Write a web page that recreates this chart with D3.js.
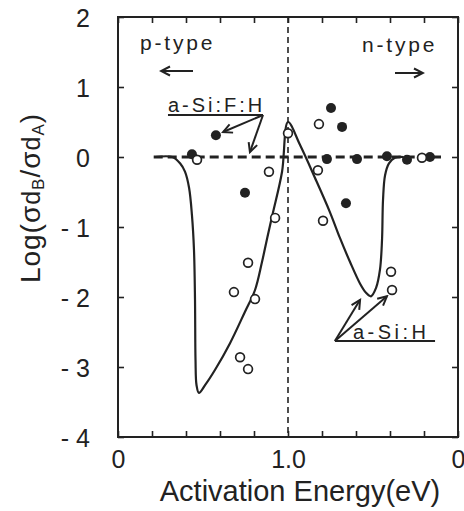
<!DOCTYPE html>
<html>
<head>
<meta charset="utf-8">
<script src="https://cdn.jsdelivr.net/npm/d3@7"></script>
<style>
  body { margin: 0; background: #fff; }
  text { font-family: "Liberation Sans", Arial, sans-serif; fill: #222; }
</style>
</head>
<body>
<div id="chart"></div>
<script>
// Solid curve (a-Si:H), p-type side then n-type side, activation energy in eV
const curvePEa  = [0.22, 0.32, 0.365, 0.394, 0.418, 0.435, 0.447, 0.453, 0.456, 0.462, 0.476, 0.512, 0.571, 0.659, 0.747, 0.806, 0.847, 0.882, 0.912, 0.965, 1.0];
const curvePLog = [0, 0, -0.09, -0.21, -0.44, -0.83, -1.33, -2.04, -2.90, -3.26, -3.37, -3.26, -3.04, -2.66, -2.21, -1.90, -1.50, -1.11, -0.79, -0.21, 0.5];
const curveNEa  = [0.929, 0.841, 0.753, 0.694, 0.635, 0.576, 0.541, 0.512, 0.482, 0.459, 0.447, 0.441, 0.429, 0.406, 0.371, 0.32];
const curveNLog = [0.17, -0.30, -0.79, -1.16, -1.50, -1.81, -1.94, -1.99, -1.87, -1.61, -1.19, -0.61, -0.26, -0.09, -0.01, 0];

// Dashed trend line for a-Si:F:H (log = 0), from p-type Ea to n-type Ea
const trendPEa = 0.21, trendNEa = 0.10, trendLog = 0;

// a-Si:F:H points (filled)
const fhPEa  = [0.435, 0.576, 0.747];
const fhPLog = [0.04, 0.31, -0.51];
const fhNEa  = [0.747, 0.682, 0.771, 0.659, 0.594, 0.418, 0.30, 0.165];
const fhNLog = [0.70, 0.43, -0.03, -0.66, -0.03, 0.01, -0.04, 0.0];

// a-Si:H points (open)
const hPEa  = [0.465, 0.888, 0.924, 1.0, 0.765, 0.682, 0.806, 0.718, 0.765];
const hPLog = [-0.04, -0.21, -0.87, 0.34, -1.51, -1.93, -2.03, -2.86, -3.03];
const hNEa  = [0.818, 0.824, 0.794, 0.394, 0.388, 0.212];
const hNLog = [0.47, -0.19, -0.91, -1.64, -1.90, -0.01];

// axis ticks
const xMinorTicks = d3.range(0, 2.001, 0.2);
const xTickLabels = { 0: "0", 1: "1.0", 2: "0" };
const yTicks = [-4, -3, -2, -1, 0, 1, 2];

const W = 464, H = 511;
const frame = { left: 118, right: 458, top: 17, bottom: 437 };

const svg = d3.select("#chart").append("svg")
  .attr("width", W).attr("height", H)
  .style("background", "#fff");

// folded axis: position 0..1 is p-type Ea, 1..2 is n-type (2 - Ea)
const x = d3.scaleLinear().domain([0, 2]).range([frame.left, frame.right]);
const y = d3.scaleLinear().domain([-4, 2]).range([frame.bottom, frame.top]);
const pos = (ea, type) => type === "p" ? ea : 2 - ea;

const ink = "#222";

// arrow heads
const defs = svg.append("defs");
defs.append("marker")
  .attr("id", "chev")
  .attr("viewBox", "-10 -6 12 12")
  .attr("markerWidth", 12).attr("markerHeight", 12)
  .attr("markerUnits", "userSpaceOnUse")
  .attr("refX", 0).attr("refY", 0)
  .attr("orient", "auto")
  .append("path")
  .attr("d", "M-9,-4.5L0,0L-9,4.5")
  .attr("fill", "none").attr("stroke", ink).attr("stroke-width", 2);

// Axes (ticks pointing inward)
const bottom = svg.append("g")
  .attr("transform", `translate(0,${frame.bottom})`)
  .call(d3.axisBottom(x).tickValues(xMinorTicks).tickSizeInner(-6).tickSizeOuter(0)
    .tickFormat(d => xTickLabels[Math.round(d * 10) / 10] || ""));
bottom.selectAll("text").attr("y", 31).attr("dy", 0).style("font-size", "25px")
  .style("font-family", "'Liberation Sans', Arial, sans-serif").attr("fill", ink);

svg.append("g")
  .attr("transform", `translate(0,${frame.top})`)
  .call(d3.axisTop(x).tickValues(xMinorTicks).tickSizeInner(-6).tickSizeOuter(0).tickFormat(""));

const left = svg.append("g")
  .attr("transform", `translate(${frame.left},0)`)
  .call(d3.axisLeft(y).tickValues(yTicks).tickSizeInner(-6).tickSizeOuter(0)
    .tickFormat(d => d < 0 ? "- " + (-d) : String(d)));
left.selectAll("text").attr("x", -28).attr("dy", "0.36em").style("font-size", "25px")
  .style("font-family", "'Liberation Sans', Arial, sans-serif").attr("fill", ink);

svg.append("g")
  .attr("transform", `translate(${frame.right},0)`)
  .call(d3.axisRight(y).tickValues(yTicks).tickSizeInner(-6).tickSizeOuter(0).tickFormat(""));

svg.selectAll(".domain").remove();
svg.selectAll(".tick line").attr("stroke", ink).attr("stroke-width", 1.6);

svg.append("rect")
  .attr("x", frame.left).attr("y", frame.top)
  .attr("width", frame.right - frame.left).attr("height", frame.bottom - frame.top)
  .attr("fill", "none").attr("stroke", ink).attr("stroke-width", 2);

// vertical dashed line at 1.0 eV
svg.append("line")
  .attr("x1", x(1)).attr("x2", x(1))
  .attr("y1", y(2)).attr("y2", y(-4))
  .attr("stroke", ink).attr("stroke-width", 1.6)
  .attr("stroke-dasharray", "6,4");

// dashed trend line for a-Si:F:H
svg.append("line")
  .attr("x1", x(pos(trendPEa, "p"))).attr("x2", x(pos(trendNEa, "n")))
  .attr("y1", y(trendLog)).attr("y2", y(trendLog))
  .attr("stroke", ink).attr("stroke-width", 3.2)
  .attr("stroke-dasharray", "9,5");

// solid a-Si:H curve
const curvePts = curvePEa.map((e, i) => [pos(e, "p"), curvePLog[i]])
  .concat(curveNEa.map((e, i) => [pos(e, "n"), curveNLog[i]]));
const line = d3.line()
  .x(d => x(d[0]))
  .y(d => y(d[1]))
  .curve(d3.curveCatmullRom.alpha(0.5));
svg.append("path")
  .attr("d", line(curvePts))
  .attr("fill", "none").attr("stroke", ink).attr("stroke-width", 2.2);

// filled points (a-Si:F:H)
const fhPts = fhPEa.map((e, i) => [pos(e, "p"), fhPLog[i]])
  .concat(fhNEa.map((e, i) => [pos(e, "n"), fhNLog[i]]));
svg.selectAll(".fh").data(fhPts).join("circle")
  .attr("class", "fh")
  .attr("cx", d => x(d[0])).attr("cy", d => y(d[1]))
  .attr("r", 5).attr("fill", ink);

// open points (a-Si:H)
const hPts = hPEa.map((e, i) => [pos(e, "p"), hPLog[i]])
  .concat(hNEa.map((e, i) => [pos(e, "n"), hNLog[i]]));
svg.selectAll(".h").data(hPts).join("circle")
  .attr("class", "h")
  .attr("cx", d => x(d[0])).attr("cy", d => y(d[1]))
  .attr("r", 4.4).attr("fill", "#fff").attr("stroke", ink).attr("stroke-width", 1.7);

// p-type / n-type labels with arrows
svg.append("text").attr("x", 140).attr("y", 50)
  .style("font-size", "21px").style("letter-spacing", "2.8px").text("p-type");
svg.append("line").attr("x1", 193).attr("x2", 161).attr("y1", 71).attr("y2", 71)
  .attr("stroke", ink).attr("stroke-width", 2).attr("marker-end", "url(#chev)");
svg.append("text").attr("x", 362).attr("y", 52)
  .style("font-size", "21px").style("letter-spacing", "2.8px").text("n-type");
svg.append("line").attr("x1", 395).attr("x2", 423).attr("y1", 73).attr("y2", 73)
  .attr("stroke", ink).attr("stroke-width", 2).attr("marker-end", "url(#chev)");

// a-Si:F:H label
const fhLab = { x0: 0.294, x1: 0.853, v: 0.6 };
svg.append("text").attr("x", x(fhLab.x0)).attr("y", y(fhLab.v) - 3)
  .style("font-size", "20px").style("letter-spacing", "3px").text("a-Si:F:H");
svg.append("line").attr("x1", x(fhLab.x0)).attr("x2", x(fhLab.x1))
  .attr("y1", y(fhLab.v)).attr("y2", y(fhLab.v))
  .attr("stroke", ink).attr("stroke-width", 2);
[[0.618, 0.357], [0.776, 0.07]].forEach(t => {
  svg.append("line").attr("x1", x(fhLab.x1)).attr("y1", y(fhLab.v))
    .attr("x2", x(t[0])).attr("y2", y(t[1]))
    .attr("stroke", ink).attr("stroke-width", 2).attr("marker-end", "url(#chev)");
});

// a-Si:H label
const hLab = { x0: 1.276, x1: 1.865, v: -2.63 };
svg.append("text").attr("x", x(hLab.x0) + 18).attr("y", y(hLab.v) - 2)
  .style("font-size", "20px").style("letter-spacing", "3.5px").text("a-Si:H");
svg.append("line").attr("x1", x(hLab.x0)).attr("x2", x(hLab.x1))
  .attr("y1", y(hLab.v)).attr("y2", y(hLab.v))
  .attr("stroke", ink).attr("stroke-width", 2);
[[1.424, -2.04], [1.582, -1.99]].forEach(t => {
  svg.append("line").attr("x1", x(hLab.x0)).attr("y1", y(hLab.v))
    .attr("x2", x(t[0])).attr("y2", y(t[1]))
    .attr("stroke", ink).attr("stroke-width", 2).attr("marker-end", "url(#chev)");
});

// axis titles
svg.append("text")
  .attr("x", 300).attr("y", 501)
  .attr("text-anchor", "middle")
  .style("font-size", "29px")
  .text("Activation Energy(eV)");

const yt = svg.append("text")
  .attr("transform", "translate(40,198) rotate(-90)")
  .attr("text-anchor", "middle")
  .style("font-size", "28px").style("letter-spacing", "1px");
yt.append("tspan").text("Log(σ");
yt.append("tspan").style("font-size", "25px").text("d");
yt.append("tspan").style("font-size", "17px").attr("dy", 4).text("B");
yt.append("tspan").attr("dy", -4).text("/σ");
yt.append("tspan").style("font-size", "25px").text("d");
yt.append("tspan").style("font-size", "17px").attr("dy", 4).text("A");
yt.append("tspan").attr("dy", -4).text(")");
</script>
</body>
</html>
